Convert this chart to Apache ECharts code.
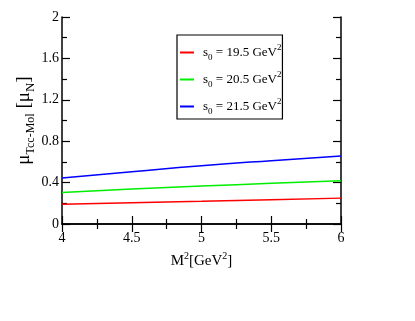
<!DOCTYPE html>
<html lang="en">
<head>
<meta charset="UTF-8">
<title>mu Tcc-Mol</title>
<script src="https://cdn.jsdelivr.net/npm/echarts@6/dist/echarts.min.js"></script>
<style>
  html, body { margin: 0; padding: 0; background: #fff; }
  #main { width: 415px; height: 321px; }
</style>
</head>
<body>
<div id="main"></div>
<script type="text/javascript">
// M^2 [GeV^2]
var m2 = [4, 4.5, 5, 5.5, 6];
// mu values for each s0
var mu195 = [0.190, 0.205, 0.219, 0.234, 0.250];
var mu205 = [0.305, 0.338, 0.367, 0.393, 0.418];
var mu215 = [0.445, 0.505, 0.563, 0.612, 0.657];
var seriesNames = ['19.5', '20.5', '21.5'];
var seriesColors = ['#ff0000', '#00ee00', '#0000ff'];

var font = 'Liberation Serif';

function pairs(ys) {
    var out = [];
    for (var i = 0; i < m2.length; i++) out.push([m2[i], ys[i]]);
    return out;
}

var myChart = echarts.init(document.getElementById('main'));

var tickStyle = { show: true, inside: true, length: 8, lineStyle: { color: '#000', width: 1.2 } };
var minorStyle = { show: true, splitNumber: 2, length: 5, lineStyle: { color: '#000', width: 1.2 } };
var lineStyle = { show: true, lineStyle: { color: '#000', width: 1.5 } };

var allData = [mu195, mu205, mu215];
var series = [];
for (var k = 0; k < allData.length; k++) {
    series.push({
        name: seriesNames[k],
        type: 'line',
        data: pairs(allData[k]),
        showSymbol: false,
        smooth: true,
        lineStyle: { color: seriesColors[k], width: 1.5 },
        itemStyle: { color: seriesColors[k] }
    });
}

var option = {
    animation: false,
    textStyle: { fontFamily: font },
    grid: { left: 62, right: 74, top: 17, bottom: 97 },
    legend: {
        orient: 'vertical',
        left: 177,
        top: 35,
        padding: [8, 1, 3, 3],
        borderColor: '#000',
        borderWidth: 1.2,
        itemWidth: 14,
        itemHeight: 2,
        itemGap: 8,
        icon: 'rect',
        data: seriesNames,
        formatter: function (n) {
            return '{a|s}{sub|0}{a| = ' + n + ' GeV}{sup|2}';
        },
        textStyle: {
            fontFamily: font,
            color: '#000',
            padding: [0, 0, 0, 4],
            rich: {
                a: { fontFamily: font, fontSize: 13, color: '#000', lineHeight: 19 },
                sub: { fontFamily: font, fontSize: 9, color: '#000', lineHeight: 8, verticalAlign: 'bottom' },
                sup: { fontFamily: font, fontSize: 9, color: '#000', lineHeight: 8, verticalAlign: 'top' }
            }
        }
    },
    xAxis: [{
        type: 'value',
        min: 4, max: 6, interval: 0.5,
        position: 'bottom',
        axisLine: lineStyle,
        axisTick: tickStyle,
        minorTick: minorStyle,
        splitLine: { show: false },
        axisLabel: { color: '#000', fontFamily: font, fontSize: 14, margin: 7 },
        name: '{a|M}{sup|2}{a|[GeV}{sup|2}{a|]}',
        nameLocation: 'middle',
        nameGap: 27,
        nameTextStyle: {
            rich: {
                a: { fontFamily: font, fontSize: 15, color: '#000', lineHeight: 20 },
                sup: { fontFamily: font, fontSize: 10, color: '#000', lineHeight: 10, verticalAlign: 'top' }
            }
        }
    }, {
        type: 'value',
        min: 4, max: 6, interval: 0.5,
        position: 'top',
        axisLine: lineStyle,
        axisTick: tickStyle,
        minorTick: minorStyle,
        splitLine: { show: false },
        axisLabel: { show: false }
    }],
    yAxis: [{
        type: 'value',
        min: 0, max: 2, interval: 0.4,
        position: 'left',
        axisLine: lineStyle,
        axisTick: tickStyle,
        minorTick: minorStyle,
        splitLine: { show: false },
        axisLabel: {
            color: '#000', fontFamily: font, fontSize: 14, margin: 3,
            formatter: function (v) { return String(Math.round(v * 10) / 10); }
        },
        name: '{mu|\u03bc}{sub|Tcc-Mol}{mu| [\u03bc}{subn|N}{mu|]}',
        nameLocation: 'middle',
        nameGap: 25,
        nameMoveOverlap: false,
        nameTextStyle: {
            rich: {
                mu: { fontFamily: font, fontSize: 19, color: '#000', lineHeight: 26 },
                sub: { fontFamily: font, fontSize: 12, color: '#000', lineHeight: 12, verticalAlign: 'bottom' },
                subn: { fontFamily: font, fontSize: 13, color: '#000', lineHeight: 12, verticalAlign: 'bottom' }
            }
        }
    }, {
        type: 'value',
        min: 0, max: 2, interval: 0.4,
        position: 'right',
        axisLine: lineStyle,
        axisTick: tickStyle,
        minorTick: minorStyle,
        splitLine: { show: false },
        axisLabel: { show: false }
    }],
    series: series
};

myChart.setOption(option);
</script>
</body>
</html>
